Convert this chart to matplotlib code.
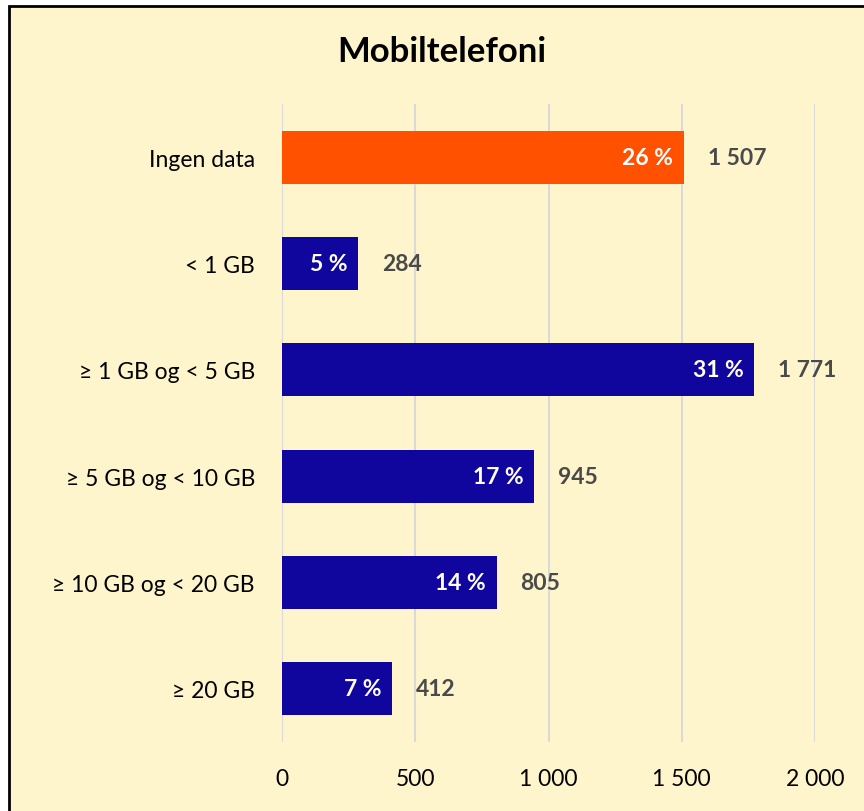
import matplotlib.pyplot as plt
from matplotlib.patches import Rectangle

categories = ["Ingen data", "< 1 GB", "≥ 1 GB og < 5 GB", "≥ 5 GB og < 10 GB",
              "≥ 10 GB og < 20 GB", "≥ 20 GB"]
values = [1507, 284, 1771, 945, 805, 412]
percents = [26, 5, 31, 17, 14, 7]
xticks = [0, 500, 1000, 1500, 2000]

bg = "#FFF5CC"
blue = "#10069E"
orange = "#FF5100"
colors = [orange] + [blue] * 5

plt.rcParams['font.family'] = ['Lato', 'DejaVu Sans']
fs = 16.5

fig = plt.figure(figsize=(8.64, 8.12), dpi=100, facecolor="white")
# chart area with border on left/top
fig.patches.append(Rectangle((9/864, -0.05), 1.0, 1 + 0.05 - 7/812,
                             transform=fig.transFigure, facecolor=bg,
                             edgecolor="black", linewidth=2, zorder=-5))

ax = fig.add_axes([282/864, 1 - 743/812, 533/864, 638/812])
ax.set_zorder(2)
ax.patch.set_alpha(0)

y = list(range(len(categories)))
ax.barh(y, values, height=0.5, color=colors, zorder=3)
ax.set_ylim(len(categories) - 0.5, -0.5)
ax.set_xlim(0, 2000)

ax.set_xticks(xticks)
ax.set_xticklabels([f"{t:,}".replace(",", " ") for t in xticks], fontsize=fs)
ax.set_yticks(y)
ax.set_yticklabels(categories, fontsize=fs)
ax.tick_params(length=0, pad=19.5, axis="y")
ax.tick_params(length=0, pad=19, axis="x")
for s in ax.spines.values():
    s.set_visible(False)
ax.grid(axis="x", color="#D9D9D9", linewidth=1.5, zorder=0)
ax.set_axisbelow(True)

for i, (v, p) in enumerate(zip(values, percents)):
    ax.text(v - 40, i, f"{p} %", ha="right", va="center", color="white",
            fontsize=fs, fontweight="bold", zorder=4)
    ax.text(v + 90, i, f"{v:,}".replace(",", " "), ha="left", va="center",
            color="#4A4A4A", fontsize=fs, fontweight="bold", zorder=4)

fig.text(442/864, 1 - 52/812, "Mobiltelefoni", ha="center", va="center",
         fontsize=25, fontweight="bold")

fig.savefig("out.png", dpi=100, facecolor=fig.get_facecolor())
